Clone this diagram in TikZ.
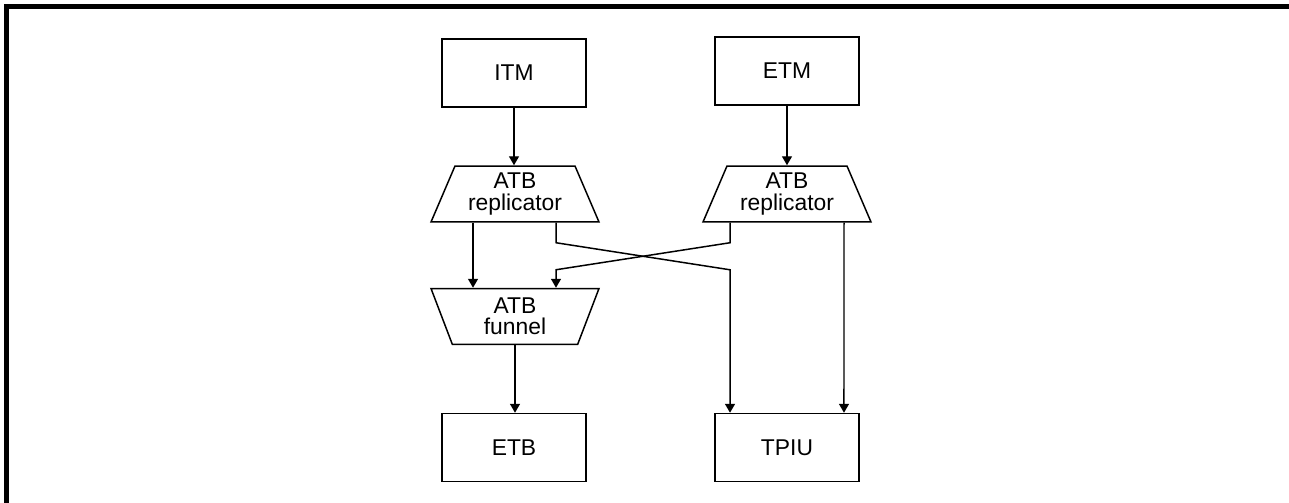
\documentclass[tikz,border=0pt]{standalone}
\usepackage{fontspec}
\setmainfont{Liberation Sans}
\usetikzlibrary{arrows.meta,shapes.geometric}

\tikzset{
	unit/.style={draw, line width=0.85pt, minimum width=2.88cm, minimum height=1.36cm, inner sep=0pt},
	repl/.style={draw, line width=0.85pt, trapezium, trapezium angle=60, trapezium stretches body,
		minimum width=3.36cm, minimum height=1.12cm, inner sep=0pt, align=center},
	funnelbox/.style={repl, shape border rotate=180},
	arr/.style={-{Triangle[length=0.18cm,width=0.2cm]}, line width=0.85pt}
}

\begin{document}
\begin{tikzpicture}[x=0.02cm, y=-0.02cm, font=\fontsize{13}{12}\selectfont]
	\useasboundingbox (0,0) rectangle (1289,503);
	% frame
	\draw[line width=2.3pt] (6.5,503) -- (6.5,6.5) -- (1289,6.5);

	% sources
	\node[unit] (itm) at (514,73) {ITM};
	\node[unit] (etm) at (787,71) {ETM};

	% replicators and funnel
	\node[repl] (repa) at (515,194) {ATB\\replicator};
	\node[repl] (repb) at (787,194) {ATB\\replicator};
	\node[funnelbox] (funnel) at (515,316.5) {ATB\\funnel};

	% sinks
	\node[unit] (etb) at (514,447.5) {ETB};
	\node[unit] (tpiu) at (787,447.5) {TPIU};

	\draw[arr] (itm.south) -- (itm.south |- repa.north);
	\draw[arr] (etm.south) -- (etm.south |- repb.north);
	\draw[arr] ([xshift=-0.84cm]repa.south) -- ([xshift=-0.84cm]repa.south |- funnel.north);
	\draw[arr] ([xshift=0.82cm]repa.south) -- ++(0,20) -- ([xshift=-1.14cm,yshift=2.86cm]tpiu.north) -- ([xshift=-1.14cm]tpiu.north);
	\draw[arr] ([xshift=-1.14cm]repb.south) -- ++(0,20) -- ([xshift=0.82cm,yshift=0.36cm]repa.south |- funnel.north) -- ([xshift=0.82cm]repa.south |- funnel.north);
	\draw[arr] ([xshift=1.14cm]repb.south) -- ([xshift=1.14cm]tpiu.north);
	\draw[arr] (funnel.south) -- (funnel.south |- etb.north);
\end{tikzpicture}
\end{document}
